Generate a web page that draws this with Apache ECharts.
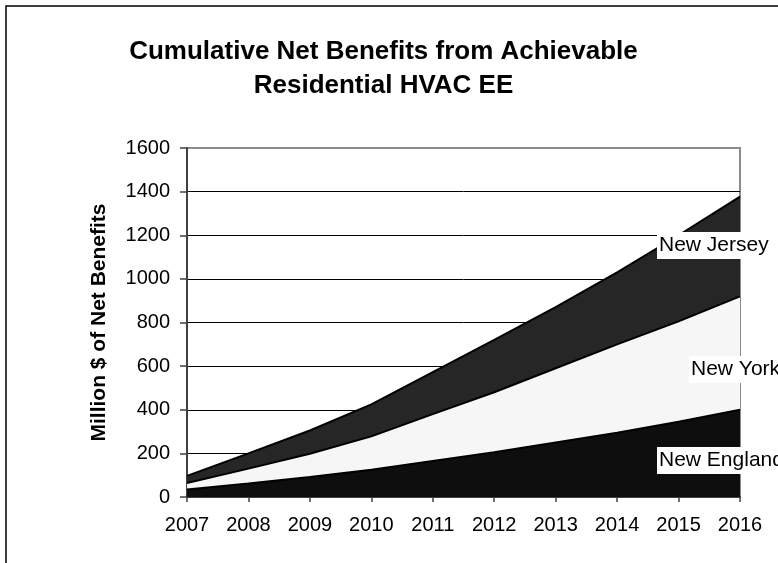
<!DOCTYPE html>
<html>
<head>
<meta charset="utf-8">
<title>Cumulative Net Benefits from Achievable Residential HVAC EE</title>
<script src="https://cdn.jsdelivr.net/npm/echarts@6/dist/echarts.min.js"></script>
<style>
  html, body { margin: 0; padding: 0; background: #fff; }
  #chart { width: 778px; height: 563px; }
</style>
</head>
<body>
<div id="chart"></div>
<script>
// Years on the horizontal axis
const years = ['2007', '2008', '2009', '2010', '2011', '2012', '2013', '2014', '2015', '2016'];

// Cumulative net benefits per region (million $), stacked bottom to top
const newEngland = [34, 62, 92, 125, 165, 205, 250, 295, 345, 400];
const newYork    = [30, 68, 106, 153, 215, 275, 340, 405, 460, 520];
const newJersey  = [33, 70, 107, 147, 192, 240, 280, 330, 395, 457];

// Value-axis ticks
const yTicks = [0, 200, 400, 600, 800, 1000, 1200, 1400, 1600];

const FONT = '"Liberation Sans", Arial, sans-serif';

const chart = echarts.init(document.getElementById('chart'), null, { renderer: 'canvas' });

// Gridlines are black except the top edge, which belongs to the grey plot frame
const gridColors = yTicks.map((v, i) => (i === yTicks.length - 1 ? '#8c8c8c' : '#000000'));

function band(name, data, fill, dotColor) {
  return {
    name: name,
    type: 'line',
    stack: 'total',
    data: data,
    symbol: 'none',
    smooth: false,
    lineStyle: { color: '#000', width: 2 },
    itemStyle: { color: fill },
    areaStyle: {
      color: fill,
      opacity: 1,
      decal: {
        symbol: 'rect',
        symbolSize: 1,
        color: dotColor,
        dashArrayX: [1, 2],
        dashArrayY: [1, 2],
        rotation: 0
      }
    },
    emphasis: { disabled: true }
  };
}

// Region name tag with a white box behind it
function tag(text, x, y) {
  return {
    type: 'text', z: 100, silent: true,
    x: x, y: y,
    style: {
      text: text, font: '21px ' + FONT, fill: '#000',
      backgroundColor: '#fff', padding: [3, 3, 3, 2], lineHeight: 21,
      verticalAlign: 'top'
    }
  };
}

chart.setOption({
  animation: false,
  backgroundColor: '#ffffff',
  textStyle: { fontFamily: FONT },
  grid: {
    left: 187, right: 38, top: 148, bottom: 66,
    show: true,
    borderColor: '#8c8c8c',
    borderWidth: 2,
    backgroundColor: 'transparent'
  },
  xAxis: {
    type: 'category',
    data: years,
    boundaryGap: false,
    axisLine: { show: true, lineStyle: { color: '#404040', width: 2 } },
    axisTick: { show: true, alignWithLabel: true, length: 5, lineStyle: { color: '#404040', width: 1.5 } },
    axisLabel: { color: '#000', fontSize: 20, fontFamily: FONT, margin: 18 },
    splitLine: { show: false }
  },
  yAxis: {
    type: 'value',
    min: yTicks[0],
    max: yTicks[yTicks.length - 1],
    interval: 200,
    name: 'Million $ of Net Benefits',
    nameLocation: 'middle',
    nameGap: 77,
    nameRotate: 90,
    nameTextStyle: { color: '#000', fontSize: 21, fontWeight: 'bold', fontFamily: FONT },
    axisLine: { show: true, lineStyle: { color: '#404040', width: 2 } },
    axisTick: { show: true, length: 7, lineStyle: { color: '#404040', width: 1.5 } },
    axisLabel: {
      color: '#000', fontSize: 20, fontFamily: FONT, margin: 17,
      formatter: (v) => String(v)
    },
    splitLine: { show: true, lineStyle: { color: gridColors, width: 1 } }
  },
  series: [
    band('New England', newEngland, '#0e0e0e', '#3a3a3a'),
    band('New York', newYork, '#f6f6f6', '#d0d0d0'),
    band('New Jersey', newJersey, '#262626', '#4a4a4a')
  ],
  graphic: [
    {
      type: 'rect', z: -10, silent: true,
      shape: { x: 6, y: 6, width: 800, height: 600 },
      style: { fill: 'none', stroke: '#000', lineWidth: 1.5 }
    },
    {
      type: 'text', z: 100, silent: true,
      x: 383.5, y: 35,
      style: {
        text: 'Cumulative Net Benefits from Achievable\nResidential HVAC EE',
        font: 'bold 26px ' + FONT,
        lineHeight: 34,
        align: 'center',
        verticalAlign: 'top',
        fill: '#000'
      }
    },
    tag('New Jersey', 657, 232),
    tag('New York', 689, 356),
    tag('New England', 657, 447)
  ]
});
</script>
</body>
</html>
